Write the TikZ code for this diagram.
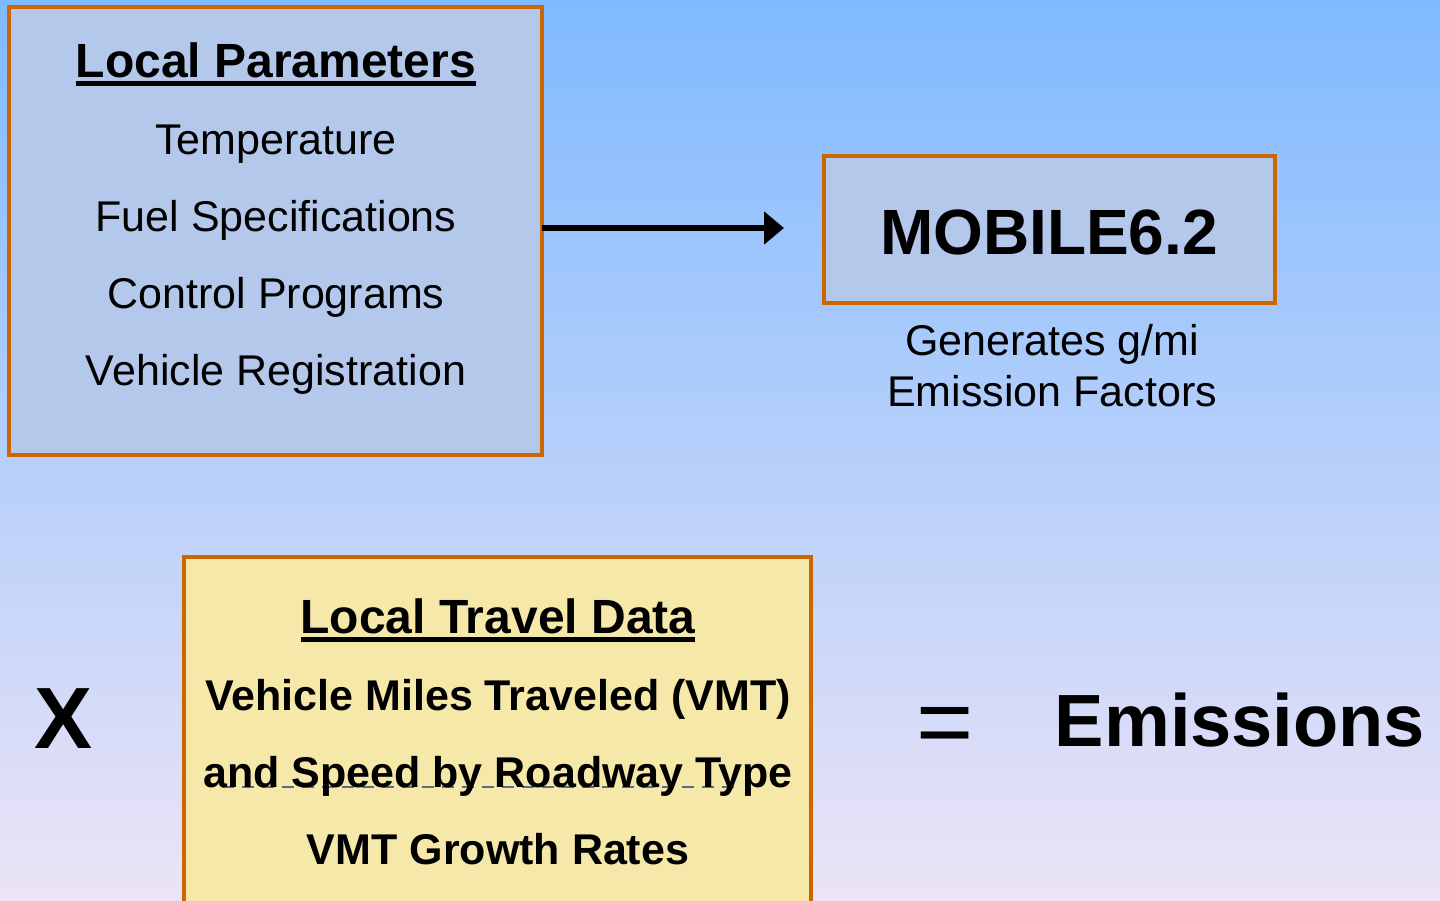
\documentclass[tikz,border=0pt]{standalone}
\usepackage{fontspec}
\setmainfont{Liberation Sans}
\usetikzlibrary{arrows.meta}
\definecolor{bgtop}{RGB}{127,186,255}
\definecolor{bgmid}{RGB}{180,210,240}
\definecolor{bgbot}{RGB}{236,228,246}
\definecolor{boxblue}{RGB}{180,200,236}
\definecolor{boxyellow}{RGB}{245,232,168}
\definecolor{boxborder}{RGB}{204,102,0}
\definecolor{dashc}{RGB}{90,110,130}
\begin{document}
\begin{tikzpicture}[x=1pt,y=-1pt,
  box/.style={draw=boxborder, line width=4pt, outer sep=0pt, inner sep=0pt, anchor=north west},
  txt/.style={inner sep=0pt, outer sep=0pt, anchor=base, text=black},
  reg/.style={txt, font=\fontsize{43}{50}\selectfont},
  bld/.style={txt, font=\fontsize{43}{50}\selectfont\bfseries},
  headtxt/.style={txt, font=\fontsize{48}{56}\selectfont\bfseries},
  uline/.style={line width=4.5pt, black},
  flow/.style={line width=5.5pt, black, -{Triangle[length=20pt,width=32pt]}},
  dashline/.style={line width=2pt, dashc, dash pattern=on 12pt off 8pt}
]
\useasboundingbox (0,0) rectangle (1440,900);
\clip (0,0) rectangle (1440,900);
\shade[top color=bgtop, middle color=bgmid, bottom color=bgbot] (0,0) rectangle (1440,900);

% boxes
\node[box, fill=boxblue, minimum width=533pt, minimum height=448pt] (lp) at (9,7) {};
\node[box, fill=boxblue, minimum width=451pt, minimum height=147pt] (mob) at (824,156) {};
\node[box, fill=boxyellow, minimum width=627pt, minimum height=360pt] (ltd) at (184,557) {};

% Local parameters
\node[headtxt] (lph) at (276,77) {Local Parameters};
\draw[uline] ([yshift=-6.5pt]lph.base west) -- ([yshift=-6.5pt]lph.base east);
\node[reg] (t1) at (276,154) {Temperature};
\node[reg] (t2) at (276,231) {Fuel Specifications};
\node[reg] (t3) at (276,308) {Control Programs};
\node[reg] (t4) at (276,385) {Vehicle Registration};

% arrow
\coordinate (tip) at (784,228);
\draw[flow] (lp.east |- tip) -- (tip);

% MOBILE
\node[txt, font=\fontsize{64}{70}\selectfont\bfseries] (mobt) at (1049,254) {MOBILE6.2};
\node[reg] (g1) at (1052,355) {Generates g/mi};
\node[reg] (g2) at (1052,406) {Emission Factors};

% travel data
\node[headtxt] (ltdh) at (498,633) {Local Travel Data};
\draw[uline] ([yshift=-6.5pt]ltdh.base west) -- ([yshift=-6.5pt]ltdh.base east);
\node[bld] (v1) at (498,710) {Vehicle Miles Traveled (VMT)};
\coordinate (dA) at (222,787);
\coordinate (dB) at (738,787);
\draw[dashline] (dA) -- (dB);
\node[bld] (v2) at (498,787) {and Speed by Roadway Type};
\node[bld] (v3) at (498,864) {VMT Growth Rates};

% equation
\node[txt, font=\fontsize{87}{90}\selectfont\bfseries] (times) at (64,748) {X};
\node[txt, font=\fontsize{98}{100}\selectfont] (eq) at (945,755) {=};
\node[txt, font=\fontsize{74}{80}\selectfont\bfseries] (em) at (1240,746) {Emissions};
\end{tikzpicture}
\end{document}
